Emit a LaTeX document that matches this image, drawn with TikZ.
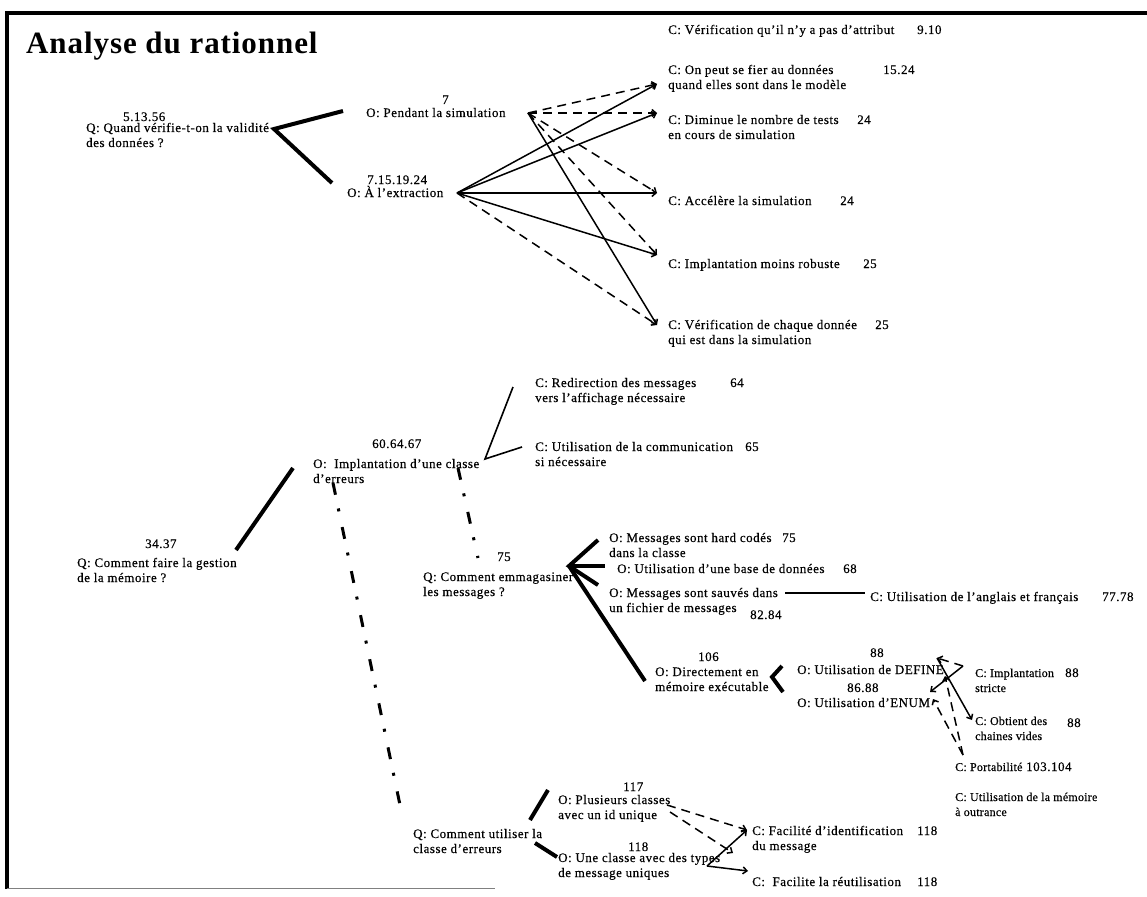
\documentclass[tikz,border=0pt]{standalone}
\usepackage{fontspec}
\setmainfont{Liberation Serif}[LetterSpace=4,FakeBold=0.4]
\newfontfamily\titlefont{Liberation Serif}[LetterSpace=3]
\newfontfamily\narrowfont{Liberation Serif}[LetterSpace=2,FakeBold=0.4]
\usetikzlibrary{arrows.meta}
\tikzset{
  txt/.style={font=\fontsize{13}{15}\selectfont, inner sep=0pt, anchor=base west, align=left},
  small txt/.style={txt, font=\narrowfont\fontsize{12}{15}\selectfont},
  num/.style={txt},
  link/.style={line width=4pt},
  thin link/.style={line width=1.6pt},
  pro/.style={line width=1.5pt, -{Straight Barb[length=4pt,width=7pt]}},
  con/.style={pro, dash pattern=on 9pt off 6pt},
  dashdot/.style={line width=3pt, dash pattern=on 12pt off 14pt on 3pt off 16pt}
}

\begin{document}
\begin{tikzpicture}[x=1pt,y=-1pt]
\useasboundingbox (0,0) rectangle (1147,896);
% frame
\draw[line width=3.5pt] (7,889) -- (7,13) -- (1147,13);
\draw[line width=1pt,gray] (7,888) -- (495,888);
\node[txt, font=\titlefont\bfseries\fontsize{31}{36}\selectfont] (title) at (26,54) {Analyse du rationnel};

% first question (two-line texts sit on their last line)
\node[num] (q1n) at (123,121) {5.13.56};
\node[txt] (q1) at (86,147) {Q: Quand vérifie-t-on la validité\\des données ?};
\node[num] (o1n) at (442,104) {7};
\node[txt] (o1) at (366,117) {O: Pendant la simulation};
\node[num] (o2n) at (367,184) {7.15.19.24};
\node[txt] (o2) at (347,197) {O: À l'extraction};
% criteria
\node[txt] (c1) at (668,34) {C: Vérification qu'il n'y a pas d'attribut};
\node[num] (c1n) at (917,34) {9.10};
\node[txt] (c2) at (668,89) {C: On peut se fier au données\\quand elles sont dans le modèle};
\node[num] (c2n) at (883,74) {15.24};
\node[txt] (c3) at (668,139) {C: Diminue le nombre de tests\\en cours de simulation};
\node[num] (c3n) at (857,124) {24};
\node[txt] (c4) at (668,205) {C: Accélère la simulation};
\node[num] (c4n) at (840,205) {24};
\node[txt] (c5) at (668,268) {C: Implantation moins robuste};
\node[num] (c5n) at (863,268) {25};
\node[txt] (c6) at (668,344) {C: Vérification de chaque donnée\\qui est dans la simulation};
\node[num] (c6n) at (875,329) {25};
% link ends
\coordinate (q1r) at (274,129);
\coordinate (o1l) at (343,111);
\coordinate (o2l) at (332,183);
\coordinate (o1r) at (528,113);
\coordinate (o2r) at (457,193);
\coordinate (c2l) at (657,84);
\coordinate (c3l) at (657,113);
\coordinate (c4l) at (657,193);
\coordinate (c5l) at (657,255);
\coordinate (c6l) at (657,325);
\draw[link] (o1l) -- (q1r) -- (o2l);
\draw[con] (o1r) -- (c2l);
\draw[con] (o1r) -- (c3l);
\draw[con] (o1r) -- (c4l);
\draw[con] (o1r) -- (c5l);
\draw[pro] (o1r) -- (c6l);
\draw[pro] (o2r) -- (c2l);
\draw[pro] (o2r) -- (c3l);
\draw[pro] (o2r) -- (c4l);
\draw[pro] (o2r) -- (c5l);
\draw[con] (o2r) -- (c6l);

% second question
\node[num] (q3n) at (145,548) {34.37};
\node[txt] (q3) at (77,582) {Q: Comment faire la gestion\\de la mémoire ?};
\node[num] (o3n) at (372,448) {60.64.67};
\node[txt] (o3) at (313,483) {O:~ Implantation d'une classe\\d'erreurs};
\node[txt] (c7) at (535,402) {C: Redirection des messages\\vers l'affichage nécessaire};
\node[num] (c7n) at (730,387) {64};
\node[txt] (c8) at (535,466) {C: Utilisation de la communication\\si nécessaire};
\node[num] (c8n) at (745,451) {65};
\node[num] (q4n) at (497,561) {75};
\node[txt] (q4) at (423,596) {Q: Comment emmagasiner\\les messages ?};
\node[txt] (o4) at (609,557) {O: Messages sont hard codés\\dans la classe};
\node[num] (o4n) at (782,542) {75};
\node[txt] (o5) at (617,573) {O: Utilisation d'une base de données};
\node[num] (o5n) at (843,573) {68};
\node[txt] (o6) at (609,612) {O: Messages sont sauvés dans\\un fichier de messages};
\node[num] (o6n) at (750,619) {82.84};
\node[txt] (c9) at (870,601) {C: Utilisation de l'anglais et français};
\node[num] (c9n) at (1102,601) {77.78};
\node[num] (o7n) at (698,661) {106};
\node[txt] (o7) at (655,691) {O: Directement en\\mémoire exécutable};
\node[num] (o8n) at (870,657) {88};
\node[txt] (o8) at (797,674) {O: Utilisation de DEFINE};
\node[num] (o9n) at (847,692) {86.88};
\node[txt] (o9) at (797,707) {O: Utilisation d'ENUM};
\node[small txt] (c10) at (975,692) {C: Implantation\\stricte};
\node[num] (c10n) at (1065,677) {88};
\node[small txt] (c11) at (975,740) {C: Obtient des\\chaines vides};
\node[num] (c11n) at (1067,727) {88};
\node[small txt] (c12) at (955,771) {C: Portabilité};
\node[num] (c12n) at (1026,771) {103.104};
\node[small txt] (c15) at (955,816) {C: Utilisation de la mémoire\\à outrance};
% use of the class
\node[txt] (q5) at (413,853) {Q: Comment utiliser la\\classe d'erreurs};
\node[num] (o10n) at (623,791) {117};
\node[txt] (o10) at (558,819) {O: Plusieurs classes\\avec un id unique};
\node[num] (o11n) at (628,851) {118};
\node[txt] (o11) at (558,877) {O: Une classe avec des types\\de message uniques};
\node[txt] (c13) at (752,850) {C: Facilité d'identification\\du message};
\node[num] (c13n) at (917,835) {118};
\node[txt] (c14) at (752,886) {C:~ Facilite la réutilisation};
\node[num] (c14n) at (917,886) {118};
% link ends
\coordinate (q3r) at (236,550);
\coordinate (o3l) at (293,468);
\coordinate (o3r) at (485,459);
\coordinate (c7l) at (513,387);
\coordinate (c8l) at (522,447);
\coordinate (o3a) at (458,468);
\coordinate (q4t) at (478,558);
\coordinate (o3b) at (333,483);
\coordinate (q5t) at (400,805);
\coordinate (q4r) at (569,566);
\coordinate (o4l) at (598,540);
\coordinate (o5l) at (605,566);
\coordinate (o6l) at (598,585);
\coordinate (o7t) at (645,681);
\coordinate (o6r) at (785,593);
\coordinate (c9l) at (865,593);
\coordinate (o7r) at (772,677);
\coordinate (o8l) at (782,666);
\coordinate (o9l) at (783,692);
\coordinate (o8r) at (937,658);
\coordinate (o8s) at (945,676);
\coordinate (o9r) at (930,692);
\coordinate (o9s) at (933,699);
\coordinate (c10l) at (963,666);
\coordinate (c11l) at (972,720);
\coordinate (c12t) at (963,755);
\coordinate (q5r) at (530,820);
\coordinate (q5b) at (535,843);
\coordinate (o10l) at (548,790);
\coordinate (o11l) at (557,857);
\coordinate (o10r) at (667,805);
\coordinate (o10s) at (670,812);
\coordinate (o11r) at (707,866);
\coordinate (c13l) at (747,830);
\coordinate (c14s) at (733,853);
\coordinate (c14l) at (748,871);
\draw[link] (q3r) -- (o3l);
\draw[thin link] (c7l) -- (o3r) -- (c8l);
\draw[dashdot] (o3a) -- (q4t);
\draw[dashdot] (o3b) -- (q5t);
\draw[link] (o4l) -- (q4r) -- (o6l);
\draw[link] (q4r) -- (o5l);
\draw[link] (q4r) -- (o7t);
\draw[line width=2.2pt] (o6r) -- (c9l);
\draw[link] (o8l) -- (o7r) -- (o9l);
\draw[con] (c10l) -- (o8r);
\draw[pro] (c10l) -- (o9r);
\draw[pro] (o8r) -- (c11l);
\draw[con] (c12t) -- (o9s);
\draw[con] (c12t) -- (o8s);
\draw[link] (o10l) -- (q5r);
\draw[link] (q5b) -- (o11l);
\draw[con] (o10r) -- (c13l);
\draw[con] (o10s) -- (c14s);
\draw[pro] (o11r) -- (c13l);
\draw[pro] (o11r) -- (c14l);
\end{tikzpicture}
\end{document}
